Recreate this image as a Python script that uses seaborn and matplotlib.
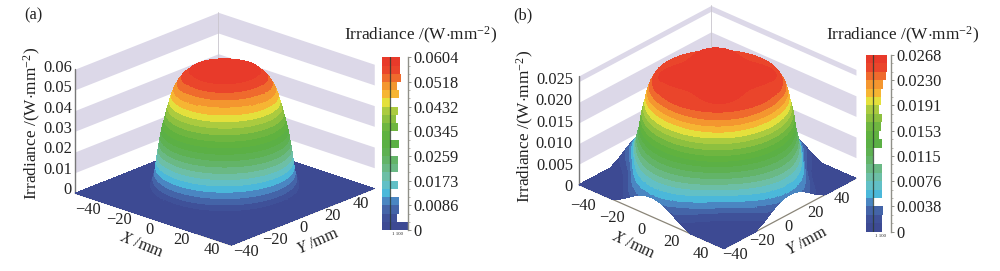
import numpy as np
import matplotlib
matplotlib.use('Agg')
import matplotlib.pyplot as plt
from matplotlib.colors import BoundaryNorm, ListedColormap
import seaborn as sns

# band colours, lowest irradiance first
band_colors = ['#3d4a93', '#3f5199', '#4464a8', '#4a86c2', '#4bb8da', '#62c0c6', '#6dbfa6',
               '#6ab985', '#63b468', '#5eb152', '#5bb045', '#60b23f', '#6fb640', '#8dc03f',
               '#abcb3f', '#e4e03c', '#f6b533', '#f4962f', '#ef6a2d', '#ea452b', '#e83a2a']

# panel a: irradiance contours against radius
radius_a = [0, 5, 10, 13.5, 16.3, 18, 19.3, 20.2, 20.9, 21.6, 22.2, 22.8, 23.4, 24, 24.4, 24.8, 25.2,
            25.6, 25.9, 26.2, 26.6, 27.2, 28, 30.5, 70]
level_a = [0.0604, 0.0604, 0.0585, 0.0575, 0.0546, 0.0518, 0.0489, 0.046, 0.0431, 0.0403, 0.0374,
           0.0345, 0.0316, 0.0288, 0.0259, 0.023, 0.0201, 0.0173, 0.0144, 0.0115, 0.0086, 0.0058,
           0.0029, 0.0, 0.0]
lobe_a = [0.0] * 25
hist_a = [54, 54, 57, 46, 51, 24, 47, 42, 47, 24, 51, 24, 47, 47, 24, 47, 24, 50, 50, 46, 79]

# panel b: same, with a four fold shape on each contour
radius_b = [0, 8, 14, 21, 26.5, 27.6, 28.4, 29, 29.7, 30.3, 30.9, 31.3, 31.8, 32.3, 32.8, 33.6,
            34.3, 35, 35.9, 37, 38.3, 40, 42.5, 47, 70]
level_b = [0.0256, 0.0262, 0.0268, 0.0255, 0.0242, 0.023, 0.0217, 0.0204, 0.0191, 0.0179, 0.0166,
           0.0153, 0.014, 0.0128, 0.0115, 0.0102, 0.0089, 0.0077, 0.0064, 0.0051, 0.0038, 0.0026,
           0.0013, 0.0, 0.0]
lobe_b = [0, 0, 0, -0.14, 0, -0.01, -0.01, -0.01, 0, 0, 0, 0, 0.005, 0.01, 0.015, 0.02, 0.03,
          0.035, 0.05, 0.06, 0.075, 0.09, 0.1, 0.12, 0]
hist_b = [62, 62, 60, 50, 45, 44, 39, 49, 44, 38, 49, 22, 22, 47, 47, 49, 49, 22, 52, 49, 49]

tick_xy = ['\u221240', '\u221220', '0', '20', '40']
ztick_a = ['0', '0.01', '0.02', '0.03', '0.04', '0.05', '0.06']
zval_a = [0, 0.01, 0.02, 0.03, 0.04, 0.05, 0.06]
zwall_a = [(0.01, 0.02), (0.03, 0.04), (0.05, 0.06)]
ztick_b = ['0', '0.005', '0.010', '0.015', '0.020', '0.025']
zval_b = [0, 0.005, 0.01, 0.015, 0.02, 0.025]
zwall_b = [(0.005, 0.01), (0.015, 0.02), (0.025, 0.0264)]
cbar_a = ['0.0604', '0.0518', '0.0432', '0.0345', '0.0259', '0.0173', '0.0086', '0']
cbar_b = ['0.0268', '0.0230', '0.0191', '0.0153', '0.0115', '0.0076', '0.0038', '0']

sns.set_theme(style='white')
plt.rcParams['font.family'] = ['Liberation Serif', 'DejaVu Serif']
plt.rcParams['mathtext.fontset'] = 'custom'
plt.rcParams['mathtext.rm'] = 'Liberation Serif'
plt.rcParams['mathtext.it'] = 'Liberation Serif:italic'

W, H = 1000, 271
FS = 11.8
TITLE = 'Irradiance /(W$\\cdot$mm$^{-2}$)'
fig = plt.figure(figsize=(W / 100, H / 100), dpi=100)


def put(x, y, s, **kw):
    kw.setdefault('ha', 'center')
    kw.setdefault('va', 'center')
    kw.setdefault('fontsize', FS)
    kw.setdefault('color', '#222222')
    fig.text(x / W, 1 - y / H, s, **kw)


def surface(ax, radius, level, lobe, vmax):
    radius, level, lobe = np.array(radius), np.array(level), np.array(lobe)
    theta = np.linspace(0, 2 * np.pi, 361)
    X = np.zeros((len(radius), len(theta)))
    Y, Z = X.copy(), X.copy()
    for j, t in enumerate(theta):
        rad = radius * (1 + lobe * np.cos(4 * t))
        edge = 40 / max(abs(np.cos(t)), abs(np.sin(t)))
        cut = np.minimum(rad, edge)
        X[:, j] = cut * np.cos(t)
        Y[:, j] = cut * np.sin(t)
        Z[:, j] = np.interp(cut, rad, level)
    edges = np.linspace(0, vmax, len(band_colors) + 1)
    norm = BoundaryNorm(edges, len(band_colors))
    cmap = ListedColormap(band_colors)
    mid = (level[:-1] + level[1:]) / 2
    mid = np.append(mid, 0)
    fc = cmap(norm(mid))[:, None, :].repeat(len(theta), axis=1)
    ax.plot_surface(X, Y, Z, facecolors=fc, rstride=1, cstride=1, shade=False,
                    linewidth=0, antialiased=False, zorder=5)


def panel(tag, cx, cy, side, elev, azim, aspect, top, radius, level, lobe, vmax, walls):
    ax = fig.add_axes([(cx - side / 2) / W, 1 - (cy + side / 2) / H, side / W, side / H],
                      projection='3d', proj_type='ortho', computed_zorder=False)
    ax.view_init(elev=elev, azim=azim)
    ax.set_box_aspect((1, 1, aspect))
    ax.set_xlim(-40, 40, view_margin=0)
    ax.set_ylim(-40, 40, view_margin=0)
    ax.set_zlim(0, top, view_margin=0)
    ax.set_axis_off()
    ax.patch.set_alpha(0)
    s = np.array([-40, 40])
    for lo, hi in walls:
        z = np.array([[lo, lo], [hi, hi]])
        ax.plot_surface(np.full((2, 2), -40), np.vstack([s, s]), z, color='#dcd8e8', shade=False,
                        linewidth=0, zorder=1)
        ax.plot_surface(np.vstack([s, s]), np.full((2, 2), 40), z, color='#dcd8e8', shade=False,
                        linewidth=0, zorder=1)
    ax.plot([-40, -40], [40, 40], [0, top], color='#c8c4cc', lw=0.6, zorder=2)
    ax.plot([-40, -40], [-40, -40], [0, top], color='#777777', lw=1.0, zorder=2)
    ax.plot([-40, 40, 40], [-40, -40, 40], [0, 0, 0], color='#8a8578', lw=0.9, zorder=2)
    surface(ax, radius, level, lobe, vmax)
    return ax


def colorbar(x0, x1, y0, y1, line_x, hist, labels):
    cax = fig.add_axes([x0 / W, 1 - y1 / H, (x1 - x0) / W, (y1 - y0) / H])
    names = [str(i) for i in range(len(hist))]
    sns.barplot(x=hist, y=names, hue=names, palette=band_colors[::-1], dodge=False, width=1.0,
                legend=False, saturation=1, linewidth=0, ax=cax)
    cax.set_xlim(0, (x1 - x0) * 3)
    cax.set_ylim(20.5, -0.5)
    cax.axvline((line_x - x0) * 3, color='#2a3a30', lw=0.9, alpha=0.8)
    cax.set(xlabel='', ylabel='', xticks=[])
    for sp in ['left', 'top', 'bottom']:
        cax.spines[sp].set_visible(False)
    cax.spines['right'].set_color('#8f8f88')
    cax.spines['right'].set_linewidth(1.0)
    cax.yaxis.tick_right()
    cax.set_yticks(np.arange(len(labels)) * 3 - 0.5, labels=labels, fontsize=FS, color='#222222')
    cax.set_yticks(np.arange(0, 21) - 0.5, minor=True)
    cax.tick_params(axis='y', which='major', length=2.5, width=0.7, color='#8f8f88', pad=1.5, right=True)
    cax.tick_params(axis='y', which='minor', length=1.5, width=0.5, color='#a09c92', right=True)
    put(x1 - 10, y1 + 4, '1 100', fontsize=3.5)


panel('a', 220.5, 133, 318, 21.3, -47.5, 0.63, 0.06, radius_a, level_a, lobe_a, 0.0604, zwall_a)
panel('b', 713.5, 131, 295, 29, -47.7, 0.635, 0.0264, radius_b, level_b, lobe_b, 0.0268, zwall_b)
colorbar(382, 408, 57.3, 230, 390, hist_a, cbar_a)
colorbar(866, 890.7, 55, 231.7, 873.3, hist_b, cbar_b)

# panel a text
put(33, 15, '(a)')
put(421, 35, TITLE, fontsize=12.4)
put(32, 123, TITLE, rotation=90, fontsize=12.4)
for s, v in zip(ztick_a, zval_a):
    put(72, 190 - v / 0.06 * 122, s, ha='right')
for s, x, y in zip(tick_xy, np.linspace(88, 212, 5), np.linspace(210, 250, 5)):
    put(x, y, s)
for s, x, y in zip(tick_xy, np.linspace(246, 361, 5), np.linspace(252, 204, 5)):
    put(x, y, s)
put(142, 245, '$\\mathit{X}$ /mm', rotation=-22)
put(318, 241, '$\\mathit{Y}$ /mm', rotation=24)

# panel b text
put(523, 15, '(b)')
put(903, 35, TITLE, fontsize=12.4)
put(525, 126, TITLE, rotation=90, fontsize=12.4)
for s, v in zip(ztick_b, zval_b):
    put(573, 187 - v / 0.025 * 107, s, ha='right')
for s, x, y in zip(tick_xy, np.linspace(583, 701, 5), np.linspace(206, 254, 5)):
    put(x, y, s)
for s, x, y in zip(tick_xy, np.linspace(735, 842, 5), np.linspace(255, 199, 5)):
    put(x, y, s)
put(634, 245, '$\\mathit{X}$ /mm', rotation=-25)
put(807, 241, '$\\mathit{Y}$ /mm', rotation=28)

fig.savefig('out.png', dpi=100)
